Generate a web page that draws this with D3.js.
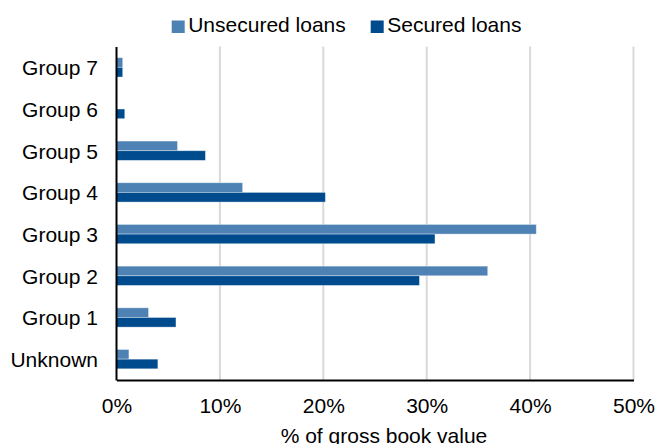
<!DOCTYPE html>
<html>
<head>
<meta charset="utf-8">
<script src="https://cdn.jsdelivr.net/npm/d3@7"></script>
<style>
  html, body { margin: 0; padding: 0; background: #fff; }
  svg { display: block; font-family: "Liberation Sans", Arial, sans-serif; }
</style>
</head>
<body>
<svg id="chart" width="660" height="444"></svg>
<script>
const categories = ["Group 7", "Group 6", "Group 5", "Group 4", "Group 3", "Group 2", "Group 1", "Unknown"];
const seriesNames = ["Unsecured loans", "Secured loans"];
const unsecured = [0.6, 0.05, 5.9, 12.2, 40.6, 35.9, 3.1, 1.2];
const secured = [0.6, 0.8, 8.6, 20.2, 30.8, 29.3, 5.75, 4.0];
const xTicks = [0, 10, 20, 30, 40, 50];
const xTickLabels = ["0%", "10%", "20%", "30%", "40%", "50%"];
const xTitle = "% of gross book value";
const colors = ["#4f82b4", "#004b8d"];

const seriesValues = [unsecured, secured];
const svg = d3.select("#chart");
const mLeft = 116.5, mRight = 633.5, mTop = 46.5, mBottom = 380;

const x = d3.scaleLinear().domain([0, 50]).range([mLeft, mRight]);
const y = d3.scaleBand().domain(categories).range([mTop, mBottom]).paddingInner(0.537).paddingOuter(0.2685);
const ySub = d3.scaleBand().domain(seriesNames).range([0, y.bandwidth()]);

// gridlines
svg.append("g").selectAll("line").data(xTicks.filter(t => t > 0)).join("line")
  .attr("x1", d => x(d)).attr("x2", d => x(d))
  .attr("y1", mTop).attr("y2", mBottom)
  .attr("stroke", "#d9d9d9").attr("stroke-width", 2);

// bars
const groups = svg.append("g").selectAll("g").data(categories).join("g")
  .attr("transform", d => `translate(0,${y(d)})`);
groups.selectAll("rect").data((c, i) => seriesNames.map((s, j) => ({ s, j, v: seriesValues[j][i] })))
  .join("rect")
  .attr("x", x(0))
  .attr("y", d => ySub(d.s))
  .attr("width", d => x(d.v) - x(0))
  .attr("height", ySub.bandwidth())
  .attr("fill", d => colors[d.j])
  .attr("stroke", "#ffffff").attr("stroke-opacity", 0.45).attr("stroke-width", 0.8);

// axes
const xAxis = d3.axisBottom(x).tickValues(xTicks).tickFormat((d, i) => xTickLabels[i]).tickSize(0).tickPadding(0);
const gx = svg.append("g").attr("transform", `translate(0,${mBottom})`).call(xAxis);
gx.select(".domain").attr("stroke", "#000").attr("stroke-width", 2);
gx.selectAll("text").attr("font-size", 21).attr("fill", "#000").attr("font-family", "Liberation Sans, Arial, sans-serif")
  .attr("y", 32.7).attr("dy", 0);

const yAxis = d3.axisLeft(y).tickSize(0).tickPadding(0);
const gy = svg.append("g").attr("transform", `translate(${mLeft - 0.5},0)`).call(yAxis);
gy.select(".domain").attr("stroke", "#000").attr("stroke-width", 2);
gy.selectAll("text").attr("font-size", 21).attr("fill", "#000").attr("font-family", "Liberation Sans, Arial, sans-serif")
  .attr("x", -18).attr("dy", "0.37em");

// axis title
svg.append("text").attr("x", 384).attr("y", 443).attr("text-anchor", "middle")
  .attr("font-size", 21).attr("fill", "#000").text(xTitle);

// legend
const legendX = [171.7, 370.7];
const leg = svg.append("g").selectAll("g").data(seriesNames).join("g")
  .attr("transform", (d, i) => `translate(${legendX[i]},20.5)`);
leg.append("rect").attr("width", 13).attr("height", 12.5).attr("fill", (d, i) => colors[i]);
leg.append("text").attr("x", 16.5).attr("y", 11.8).attr("font-size", 21).attr("fill", "#000").text(d => d);
</script>
</body>
</html>
